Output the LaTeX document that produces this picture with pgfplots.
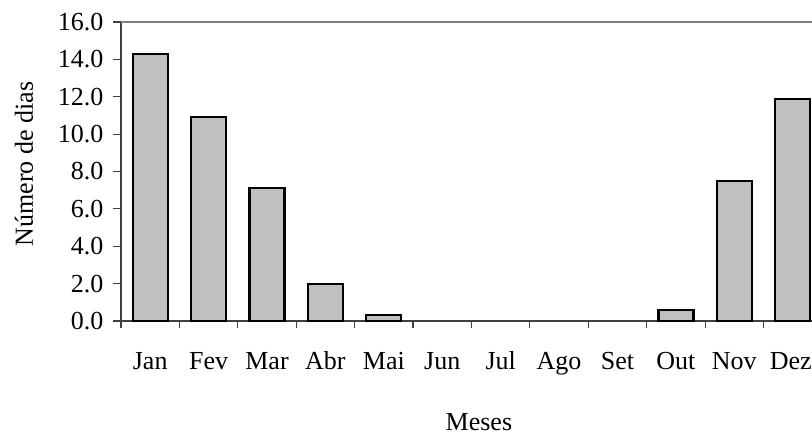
\documentclass[border=0pt]{standalone}
\usepackage{fontspec}
\setmainfont{Liberation Serif}
\usepackage{pgfplots}
\pgfplotsset{compat=1.18}
\newcommand\f{\fontsize{26}{30}\selectfont}
\definecolor{barfill}{HTML}{C0C0C0}
\definecolor{axline}{HTML}{404040}
\begin{document}
\begin{tikzpicture}
\begin{axis}[
  scale only axis, width=691pt, height=299pt,
  xmin=-0.5, xmax=11.33, ymin=0, ymax=16,
  axis x line=bottom, axis y line=left,
  axis line style={-, draw=axline, line width=1.2pt},
  tick align=outside,
  xtick={0,...,11},
  xticklabels={Jan,Fev,Mar,Abr,Mai,Jun,Jul,Ago,Set,Out,Nov,{\hspace*{-4pt}Dez}},
  major x tick style={draw=none},
  minor xtick={-0.5,0.5,...,10.5},
  minor x tick style={draw=axline, line width=1.2pt},
  minor tick length=7pt,
  major tick length=8pt,
  ytick={0,2,...,16},
  y tick style={draw=axline, line width=1.2pt},
  yticklabel style={/pgf/number format/.cd, fixed, fixed zerofill, precision=1, assume math mode=true},
  extra y ticks={16}, extra y tick labels={},
  extra y tick style={grid=major, major grid style={draw=gray, line width=1.3pt}, major tick length=0pt},
  tick label style={font=\f},
  label style={font=\f},
  xticklabel style={anchor=base, yshift=-40pt, inner xsep=0pt},
  yticklabel shift=6pt,
  xlabel={Meses},
  xlabel style={at={(axis description cs:0.518,-0.366)}, anchor=base, inner sep=0pt},
  ylabel={Número de dias},
  ylabel style={at={(axis description cs:-0.1274,0.525)}, anchor=base},
  clip=false,
]
\addplot[ybar, bar width=35pt, fill=barfill, draw=black, line width=2.2pt]
  coordinates {(0,14.3) (1,10.9) (2,7.1) (3,2.0) (4,0.3) (9,0.6) (10,7.5) (11,11.9)};
\end{axis}
\pgfresetboundingbox
\path[use as bounding box] (-121pt,-115pt) rectangle (691pt,321pt);
\end{tikzpicture}
\end{document}
